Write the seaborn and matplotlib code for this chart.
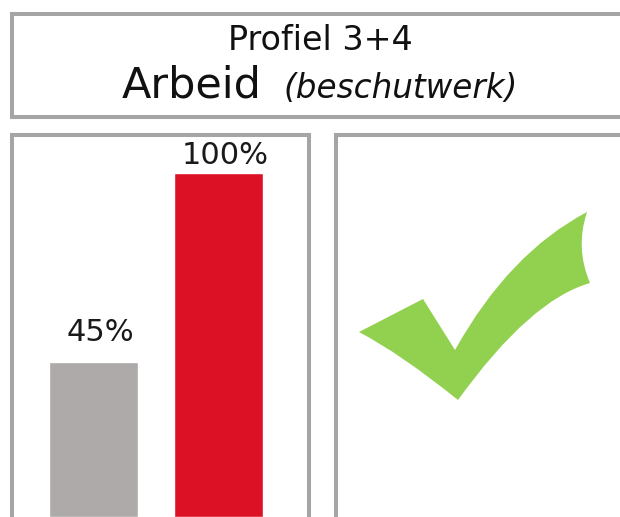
import seaborn as sns
import matplotlib.pyplot as plt
import pandas as pd
from matplotlib.patches import PathPatch
from matplotlib.path import Path

# data
categories = ['Groep', 'Profiel 3+4']
values = [45, 100]
labels = ['45%', '100%']
bar_colors = ['#AEAAAA', '#DC1125']

title_top = 'Profiel 3+4'
title_main = 'Arbeid'
title_sub = '(beschutwerk)'

border = '#A5A5A5'
green = '#92D050'

sns.set_theme(style='white')
plt.rcParams['font.family'] = ['DejaVu Sans']

W, H = 620, 517
fig = plt.figure(figsize=(W / 100, H / 100), dpi=100)
fig.patch.set_facecolor('white')


def box(x0, y0, x1, y1):
    # pixel box (top-left origin) -> figure fraction rect
    return [x0 / W, 1 - y1 / H, (x1 - x0) / W, (y1 - y0) / H]


def frame(ax, sides):
    for s, sp in ax.spines.items():
        sp.set_visible(s in sides)
        sp.set_color(border)
        sp.set_linewidth(2.9)
    ax.set_xticks([])
    ax.set_yticks([])


# title box
ax_t = fig.add_axes(box(12, 14, 628, 117))
frame(ax_t, ['left', 'top', 'right', 'bottom'])

# bar panel
ax = fig.add_axes(box(12, 135, 309, 517))
df = pd.DataFrame({'cat': categories, 'val': values})
sns.barplot(data=df, x='cat', y='val', hue='cat', palette=bar_colors,
            width=0.716, legend=False, ax=ax, saturation=1)
ax.set_xlim(-0.652, 1.724)
ax.set_ylim(0, 111)
ax.set_xlabel('')
ax.set_ylabel('')
frame(ax, ['left', 'top', 'right'])
label_gap = [15, 6.5]  # points between bar top and label baseline
for i, (v, lab) in enumerate(zip(values, labels)):
    ax.annotate(lab, (i, v), xytext=(5, label_gap[i]), textcoords='offset points',
                ha='center', va='baseline', fontsize=22, color='#1a1a1a')

# right panel
ax_r = fig.add_axes(box(336, 135, 628, 517))
frame(ax_r, ['left', 'top', 'right'])

# overlay in pixel coordinates for title text and the check mark
ov = fig.add_axes([0, 0, 1, 1])
ov.set_xlim(0, W)
ov.set_ylim(H, 0)
ov.axis('off')
ov.patch.set_visible(False)

ov.text(320, 50, title_top, ha='center', va='baseline', fontsize=24, color='#111111')
ov.text(122, 98, title_main, ha='left', va='baseline', fontsize=31, color='#111111')
ov.text(518, 98, title_sub, ha='right', va='baseline', fontsize=23.5,
        style='italic', color='#111111')

verts = [(359, 332), (423, 299), (455, 350),
         (509, 253), (587, 212),
         (575, 248), (590, 283),
         (530, 300), (458, 400),
         (401, 354), (359, 332),
         (359, 332)]
codes = [Path.MOVETO, Path.LINETO, Path.LINETO,
         Path.CURVE3, Path.CURVE3,
         Path.CURVE3, Path.CURVE3,
         Path.CURVE3, Path.CURVE3,
         Path.CURVE3, Path.CURVE3,
         Path.CLOSEPOLY]
ov.add_patch(PathPatch(Path(verts, codes), facecolor=green, edgecolor='none'))

fig.savefig('out.png', dpi=100, facecolor='white')
